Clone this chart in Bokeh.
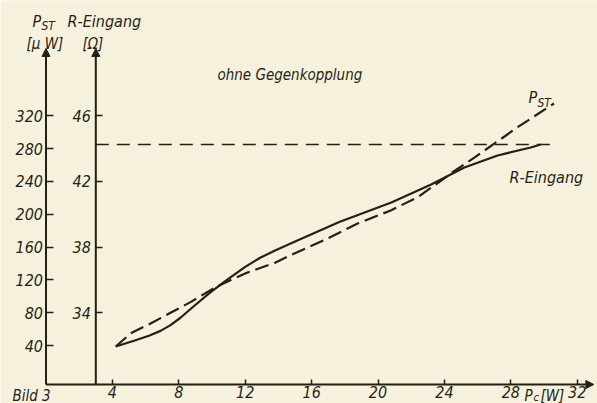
from bokeh.plotting import figure
from bokeh.models import (LinearAxis, Range1d, FixedTicker, Arrow, NormalHead, Label)
from bokeh.embed import file_html
from bokeh.resources import INLINE

# ---------------- data ----------------
x_ticks = [4, 8, 12, 16, 20, 24, 28, 32]
p_ticks = [40, 80, 120, 160, 200, 240, 280, 320]
r_ticks = [34, 38, 42, 46]

# P_ST (left axis, µW) vs P_c (W)
x_pst = [4.2, 5.1, 6.3, 7.5, 8.7, 10.2, 12.0, 13.8, 14.7, 16.7, 18.8, 20.8, 22.4, 23.8, 24.4, 25.8, 27.0, 28.4, 30.6]
p_st = [39, 55, 67, 80, 93, 111, 128, 141, 150, 168, 189, 205, 221, 241, 250, 269, 286, 306, 335]

# R-Eingang (second axis, Ohm) vs P_c (W)
x_r = [4.2, 5.3, 6.2, 6.9, 7.5, 8.1, 8.9, 9.9, 10.9, 12.0, 12.9, 13.8, 14.7, 17.7, 20.8, 23.2, 25.2, 27.2, 29.2, 29.8]
r_in = [31.95, 32.3, 32.6, 32.9, 33.25, 33.7, 34.4, 35.25, 36.0, 36.8, 37.35, 37.8, 38.2, 39.55, 40.72, 41.82, 42.85, 43.58, 44.07, 44.25]

# dashed reference level on the R axis
r_ref = 44.25
r_ref_x = [3.0, 30.6]

# ---------------- style ----------------
INK = "#251f15"
BG = "#f5f1dc"
FONT = "'Liberation Sans Narrow', 'DejaVu Sans Condensed', 'Roboto Condensed', 'Liberation Sans', sans-serif"

W, H = 597, 403
x0, x1 = -2.741, 33.22
y0, y1 = -30.45, 460.4
axis_y = -7.3
axis_top = 402

p = figure(width=W, height=H, output_backend="svg", toolbar_location=None,
           x_range=Range1d(x0, x1), y_range=Range1d(y0, y1),
           x_axis_location=None, y_axis_location=None, min_border=0)
p.background_fill_color = BG
p.border_fill_color = BG
p.outline_line_color = None
p.xgrid.visible = False
p.ygrid.visible = False

# R axis range: R = 30 + P/20
p.extra_y_ranges = {"r": Range1d(30 + y0 / 20, 30 + y1 / 20)}


def style_axis(ax, tick_in, standoff):
    ax.axis_line_color = None
    ax.major_tick_in = tick_in
    ax.major_tick_out = 0
    ax.minor_tick_in = 0
    ax.minor_tick_out = 0
    ax.major_tick_line_color = INK
    ax.major_tick_line_width = 1.5
    ax.major_label_text_font = FONT
    ax.major_label_text_font_style = "italic"
    ax.major_label_text_font_size = "16px"
    ax.major_label_text_color = INK
    ax.major_label_standoff = standoff


ax_p = LinearAxis(fixed_location=0, ticker=FixedTicker(ticks=p_ticks))
style_axis(ax_p, 7, 3)
p.add_layout(ax_p, "left")

ax_r = LinearAxis(fixed_location=3, y_range_name="r", ticker=FixedTicker(ticks=r_ticks))
style_axis(ax_r, 7, 5)
p.add_layout(ax_r, "left")

ax_x = LinearAxis(fixed_location=axis_y, ticker=FixedTicker(ticks=x_ticks))
style_axis(ax_x, 5, 2)
p.add_layout(ax_x, "below")

# axis lines with arrow heads
for (xs, ys, xe, ye) in [(0, axis_y, 0, axis_top), (3, axis_y, 3, axis_top), (0, axis_y, 33.0, axis_y)]:
    p.add_layout(Arrow(x_start=xs, y_start=ys, x_end=xe, y_end=ye, line_color=INK, line_width=2,
                       end=NormalHead(size=8, fill_color=INK, line_color=INK)))

# curves
p.line(r_ref_x, [r_ref, r_ref], y_range_name="r", line_color=INK, line_width=1.6, line_dash="13 8")
p.line(x_pst, p_st, line_color=INK, line_width=2.2, line_dash="14 6")
p.line(x_r, r_in, y_range_name="r", line_color=INK, line_width=2.2)


# texts (page px -> screen units of the frame, y from bottom)
def lab(text, px, py, size=16):
    p.add_layout(Label(x=px, y=H - py, x_units="screen", y_units="screen", text=text,
                       text_font=FONT, text_font_style="italic", text_font_size=f"{size}px",
                       text_color=INK, text_baseline="alphabetic", text_align="left"))


lab("P", 32, 21, 16)
lab("ST", 41, 25, 12)
lab("[µ W]", 26, 43, 15)
lab("R-Eingang", 67, 21, 16)
lab("[Ω]", 82, 43, 15)
lab("ohne  Gegenkopplung", 217, 74, 15)
lab("P", 528, 97, 16)
lab("ST", 537, 102, 12)
lab("R-Eingang", 509, 177, 16)
lab("Bild 3", 12, 395, 15)
lab("P", 524, 395, 15)
lab("c", 533, 397, 11)
lab("[W]", 540, 395, 15)

open("out.html", "w").write(file_html(p, INLINE))
